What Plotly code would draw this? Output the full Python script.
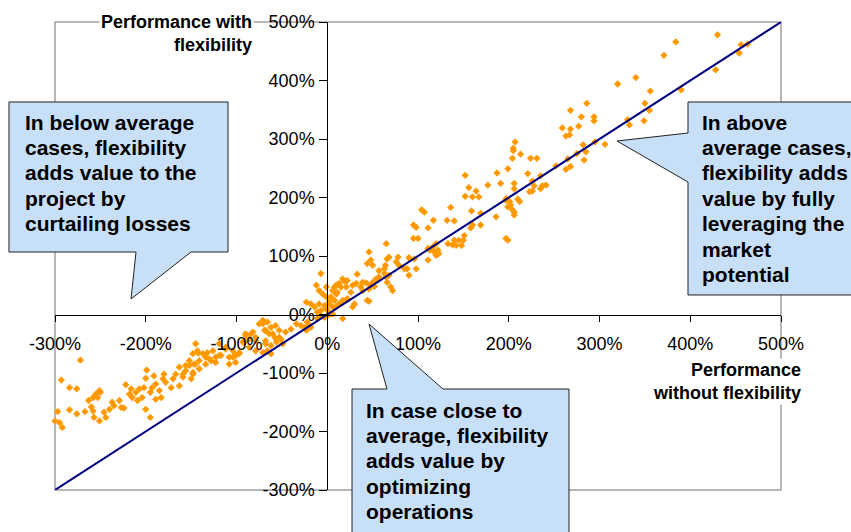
import plotly.graph_objects as go

# Performance without flexibility (x, %) vs performance with flexibility (y, %)
upper_cases = [
    (430, 478), (384, 466), (371, 443), (456, 461), (463, 462), (454, 447), (428, 418),
    (340, 405), (320, 394), (356, 382), (390, 384), (350, 361), (355, 349), (349, 331),
    (331, 333), (333, 324), (286, 361), (268, 349), (280, 338), (294, 338), (294, 331),
    (259, 319), (268, 317), (277, 322), (263, 305), (267, 307), (306, 291), (295, 295),
    (282, 290), (285, 278), (275, 275), (283, 264), (265, 266), (268, 253), (263, 248),
    (252, 254), (207, 295), (205, 284), (213, 274), (204, 267), (224, 267), (231, 267),
    (199, 249), (221, 241), (235, 237), (191, 224), (206, 224), (206, 215), (226, 228),
    (228, 220), (226, 211), (223, 210), (237, 220), (241, 221), (235, 215), (197, 198),
    (201, 193), (210, 197), (212, 193), (199, 184), (204, 179), (206, 170), (197, 130),
]

middle_cases = [
    (205, 280), (187, 242), (177, 221), (152, 238), (164, 211), (167, 201), (156, 217),
    (160, 201), (152, 202), (159, 177), (169, 173), (186, 167), (197, 195), (202, 187),
    (206, 175), (136, 183), (132, 161), (140, 160), (104, 179), (107, 175), (117, 161),
    (95, 153), (98, 149), (111, 148), (160, 153), (158, 148), (169, 153), (151, 135),
    (150, 127), (145, 127), (140, 127), (138, 119), (142, 118), (148, 118), (133, 121),
    (199, 127), (95, 130), (100, 130), (120, 121), (116, 115), (113, 110), (111, 113),
    (118, 107), (122, 110), (123, 104), (111, 93), (120, 101), (65, 121), (96, 95),
    (98, 78), (90, 97), (78, 98), (76, 90), (79, 84), (66, 95), (68, 98), (64, 84),
    (63, 78), (85, 78), (88, 78), (90, 67), (46, 107), (48, 93), (44, 87), (50, 84),
    (57, 75), (63, 70), (65, 64), (68, 67), (57, 64), (66, 55), (70, 47), (72, 41),
    (54, 61), (50, 55), (48, 50), (52, 48), (46, 44), (43, 54), (39, 55), (37, 47),
    (32, 53), (28, 50), (33, 69), (22, 58), (19, 57), (17, 61), (13, 53), (8, 47),
    (6, 41), (11, 38), (15, 47), (21, 47), (26, 38), (39, 41), (46, 23), (30, 18),
    (22, 27), (17, 24), (13, 18), (10, 14), (2, 21), (-1, 30), (-5, 35), (-7, 70),
    (-9, 41), (-3, 15), (0, 7), (4, 1), (17, -7), (-7, -2), (-3, -5),
    (-12, 50), (-1, 47), (10, 50), (-23, 21), (-18, 18), (-14, 13), (-11, 4), (-7, 7),
    (-1, 10), (-9, 18), (4, 30), (8, 24), (10, 35), (2, 18), (6, 1), (44, 24),
    (28, 13), (6, 13), (0, -2), (-11, -7), (-20, -19), (-25, -22),
]

lower_cases = [
    (-22, -13), (-18, -22), (-23, -27), (-29, -19), (-34, -16), (-40, -25), (-46, -30),
    (-53, -27), (-57, -19), (-62, -22), (-66, -13), (-71, -10), (-75, -16), (-69, -27),
    (-64, -33), (-58, -39), (-51, -42), (-68, -45), (-62, -53), (-66, -62), (-71, -65),
    (-79, -39), (-84, -33), (-90, -36), (-93, -47), (-86, -56), (-79, -62), (-97, -65),
    (-104, -62), (-112, -59), (-119, -50), (-126, -62), (-132, -65), (-137, -67),
    (-143, -62), (-148, -67), (-152, -79), (-156, -87), (-147, -85), (-141, -79),
    (-134, -73), (-128, -79), (-123, -73), (-117, -70), (-108, -73), (-101, -70),
    (-141, -93), (-148, -99), (-159, -102), (-145, -50), (-142, -66),
    (-119, -70), (-123, -82), (-104, -73), (-108, -85), (-101, -82), (-97, -67),
    (-112, -56), (-134, -85), (-130, -76), (-71, -16), (-68, -27), (-60, -33),
    (-53, -39), (-68, -50), (-56, -47), (-49, -50), (-62, -67), (-82, -30), (-86, -42),
    (-79, -45), (-90, -33), (-91, -47),
    (-272, -78), (-293, -112), (-284, -125), (-276, -127), (-297, -166), (-300, -182),
    (-295, -185), (-292, -193), (-284, -163), (-276, -170), (-267, -166), (-263, -147),
    (-260, -158), (-258, -165), (-257, -176), (-251, -182), (-255, -136), (-251, -130),
    (-250, -133), (-253, -142), (-258, -142), (-246, -167), (-240, -162), (-237, -150),
    (-235, -156), (-229, -147), (-227, -159), (-224, -160), (-244, -176), (-222, -120),
    (-216, -127), (-218, -136), (-215, -142), (-209, -147), (-211, -133), (-207, -127),
    (-200, -109), (-199, -95), (-195, -176), (-200, -162), (-204, -142), (-202, -125),
    (-193, -125), (-189, -119), (-185, -130), (-195, -133), (-181, -110), (-178, -116),
    (-172, -125), (-170, -110), (-167, -102), (-163, -90), (-159, -107), (-156, -96),
    (-152, -87), (-148, -102), (-145, -85), (-150, -110), (-163, -122), (-180, -102),
    (-191, -105), (-183, -142), (-189, -145),
]

cases = upper_cases + middle_cases + lower_cases
perf_without = [p[0] for p in cases]
perf_with = [p[1] for p in cases]

# break-even diagonal: with flexibility == without flexibility
diag_x = [-300, 500]
diag_y = [-300, 500]

tick_vals = [-300, -200, -100, 0, 100, 200, 300, 400, 500]
tick_text = ["-300%", "-200%", "-100%", "0%", "100%", "200%", "300%", "400%", "500%"]

W, H = 851, 532
ML, MR, MT, MB = 55, 70, 22, 42
PW, PH = W - ML - MR, H - MT - MB


def px(x):
    return (x - ML) / PW


def py(y):
    return (H - MB - y) / PH


def path(points):
    return "M " + " L ".join(f"{px(a):.4f},{py(b):.4f}" for a, b in points) + " Z"


font = "Arial, 'Liberation Sans', sans-serif"

fig = go.Figure()
fig.add_trace(go.Scatter(
    x=perf_without, y=perf_with, mode="markers",
    marker=dict(symbol="diamond", size=5.6, color="#FF9900", line=dict(width=0)),
    cliponaxis=False, showlegend=False, hoverinfo="x+y",
))
fig.add_trace(go.Scatter(
    x=diag_x, y=diag_y, mode="lines",
    line=dict(color="#000080", width=2), showlegend=False, hoverinfo="skip",
))

axis_common = dict(
    range=[-300, 500], tickmode="array", tickvals=tick_vals, ticktext=tick_text,
    showgrid=False, zeroline=False, showline=True, linecolor="black", linewidth=1,
    ticks="outside", tickcolor="black", tickwidth=1,
    tickfont=dict(family=font, size=18, color="black"),
    anchor="free", position=0.375,
)
fig.update_layout(
    width=W, height=H,
    margin=dict(l=ML, r=MR, t=MT, b=MB),
    paper_bgcolor="white", plot_bgcolor="white",
    xaxis=dict(**axis_common, ticklen=6, ticklabelstandoff=7),
    yaxis=dict(**axis_common, ticklen=8, ticklabelstandoff=1),
)

# plot-area frame
shapes = [dict(type="rect", xref="paper", yref="paper", x0=0, y0=0, x1=1, y1=1,
               line=dict(color="#A0A0A0", width=1.5), layer="below")]

callout_style = dict(type="path", xref="paper", yref="paper", fillcolor="#C8DFF8",
                     line=dict(color="#222222", width=1), layer="above")
left_box = [(9, 102), (228, 102), (228, 252), (191, 252), (131, 299), (136, 252), (9, 252)]
right_box = [(688, 102), (870, 102), (870, 295), (688, 295), (688, 182), (617, 141), (688, 133)]
bottom_box = [(352, 389), (387, 389), (369, 324), (443, 389), (569, 389), (569, 545), (352, 545)]
for pts in (left_box, right_box, bottom_box):
    shapes.append(dict(**callout_style, path=path(pts)))

annotations = [
    dict(text="Performance with<br>flexibility", x=px(254), y=py(33.5), xanchor="right",
         yanchor="middle", align="right", bgcolor="white",
         font=dict(family=font, size=18, color="black", weight="bold")),
    dict(text="Performance<br>without flexibility", x=px(803), y=py(381.5), xanchor="right",
         yanchor="middle", align="right", bgcolor="white",
         font=dict(family=font, size=18, color="black", weight="bold")),
]

callout_texts = [
    (23, 122, ["In below average", "cases, flexibility", "adds value to the",
               "project by", "curtailing losses"]),
    (700, 122, ["In above", "average cases,", "flexibility adds", "value by fully",
                "leveraging the", "market", "potential"]),
    (364, 410, ["In case close to", "average, flexibility", "adds value by",
                "optimizing", "operations"]),
]
for x0, y0, lines in callout_texts:
    for i, line in enumerate(lines):
        annotations.append(dict(
            text=line, x=px(x0), y=py(y0 + 25.4 * i), xanchor="left", yanchor="middle",
            showarrow=False, font=dict(family=font, size=21, color="black", weight="bold"),
        ))

for a in annotations:
    a.setdefault("showarrow", False)
    a["xref"] = "paper"
    a["yref"] = "paper"

fig.update_layout(shapes=shapes, annotations=annotations)
fig.write_html("out.html")
